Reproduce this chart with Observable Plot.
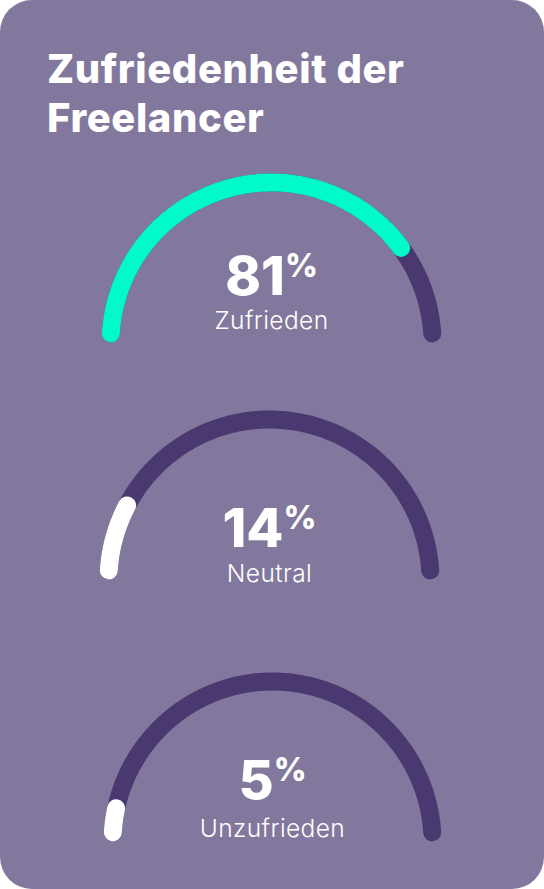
<!DOCTYPE html>
<html>
<head>
<meta charset="utf-8">
<script src="https://cdn.jsdelivr.net/npm/d3@7"></script>
<script src="https://cdn.jsdelivr.net/npm/@observablehq/plot@0.6"></script>
<style>
  html, body { margin: 0; padding: 0; background: #ffffff; }
  #card {
    position: absolute; left: 0; top: 0; width: 544px; height: 889px;
    background: #82789d; border-radius: 32px; overflow: hidden;
  }
  #title {
    position: absolute; left: 47px; top: 44px; margin: 0;
    font-family: Inter, "Noto Sans", sans-serif; font-weight: 800;
    font-size: 40px; line-height: 49px; color: #ffffff; letter-spacing: 0.6px;
  }
  .gauge { position: absolute; left: 0; }
</style>
</head>
<body>
<div id="card">
  <h1 id="title">Zufriedenheit der<br>Freelancer</h1>
</div>
<script>
// ---- data ----
const categories = ["Zufrieden", "Neutral", "Unzufrieden"];
const values = [81, 14, 5];
const valueLabels = ["81", "14", "5"];

// ---- styles / layout (not data) ----
const fillColors = ["#00fbc8", "#ffffff", "#ffffff"];
const trackColor = "#4a3870";
const layout = [
  {top: 162, left: 110, right: 112, numY: 0.30, labY: 0.093},
  {top: 399, left: 108, right: 114, numY: 0.21, labY: -0.012},
  {top: 661, left: 112, right: 112, numY: 0.27, labY: 0.037}
];
const edge = 3.6; // degrees the arc ends above the horizontal
const a0 = 180 - edge, a1 = edge;

function arcPoints(fromDeg, toDeg) {
  const n = 120, pts = [];
  for (let i = 0; i <= n; i++) {
    const a = (fromDeg + (toDeg - fromDeg) * i / n) * Math.PI / 180;
    pts.push({x: Math.cos(a), y: Math.sin(a)});
  }
  return pts;
}

const card = document.getElementById("card");
categories.forEach((cat, i) => {
  const L = layout[i];
  const v = values[i];
  const endDeg = a0 - (v / 100) * (a0 - a1);
  const center = [{x: 0, cat, num: valueLabels[i]}];
  const svg = Plot.plot({
    width: 544,
    height: 200,
    marginLeft: L.left,
    marginRight: L.right,
    marginTop: 20,
    marginBottom: 19,
    x: {domain: [-1, 1], axis: null},
    y: {domain: [0, 1], axis: null},
    style: {background: "transparent", overflow: "visible"},
    marks: [
      Plot.line(arcPoints(a0, a1), {x: "x", y: "y", stroke: trackColor, strokeWidth: 18, strokeLinecap: "round", curve: "linear"}),
      Plot.line(arcPoints(a0, endDeg), {x: "x", y: "y", stroke: fillColors[i], strokeWidth: 18, strokeLinecap: "round", curve: "linear"}),
      Plot.text(center, {x: "x", y: () => L.numY, text: "num", fill: "#ffffff", fontSize: 54, fontWeight: 800,
        fontFamily: "Inter, 'Noto Sans', sans-serif", textAnchor: "middle", lineAnchor: "bottom"}),
      Plot.text(center, {x: "x", y: () => L.labY, text: "cat", fill: "#ffffff", fontSize: 24.5, fontWeight: 300,
        fontFamily: "Inter, 'Noto Sans', sans-serif", textAnchor: "middle", lineAnchor: "bottom"})
    ]
  });
  const textGroups = d3.select(svg).selectAll('g[aria-label="text"]').nodes();
  if (textGroups.length) {
    d3.select(textGroups[0]).selectAll("text")
      .append("tspan").attr("font-size", 32).attr("font-weight", 800).attr("dy", -18).attr("dx", 0).text("%");
    d3.select(textGroups[1]).selectAll("text").attr("letter-spacing", "0.4px");
  }
  const wrap = document.createElement("div");
  wrap.className = "gauge";
  wrap.style.top = L.top + "px";
  wrap.appendChild(svg);
  card.appendChild(wrap);
});
</script>
</body>
</html>
